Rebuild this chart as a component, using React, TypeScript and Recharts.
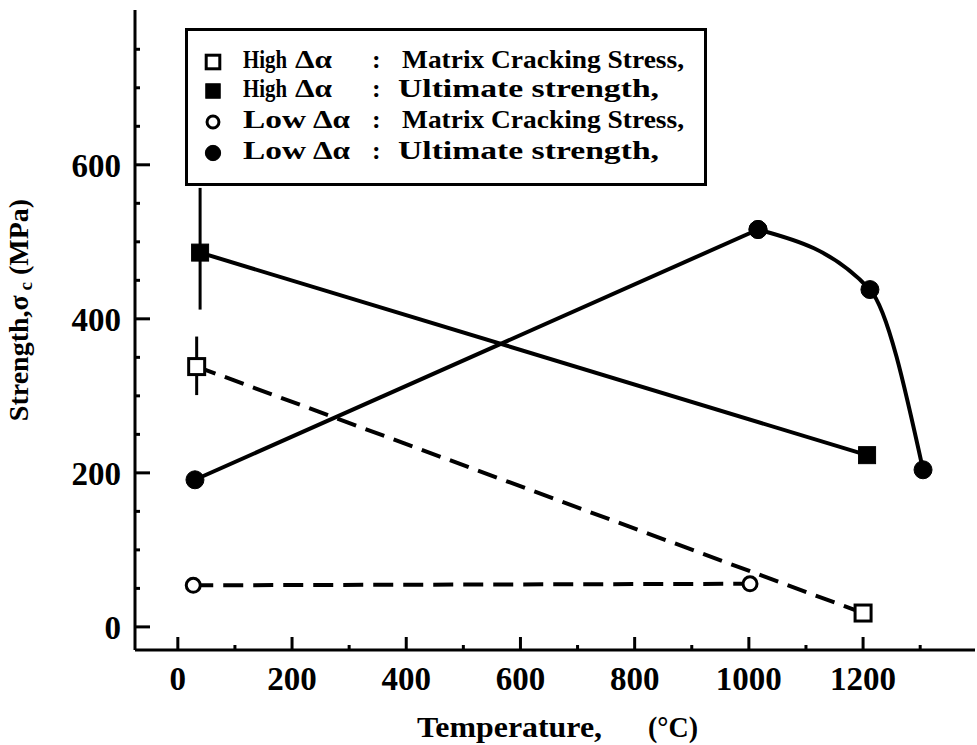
import React from 'react';
import { LineChart, Line, XAxis, YAxis, ErrorBar, Legend } from 'recharts';

// ---- data (temperature °C, strength MPa) ----
const highMatrix = [
  { t: 33, v: 338, e: [37, 39] },
  { t: 1200, v: 18, e: [0, 0] },
];
const highUltimate = [
  { t: 39, v: 486, e: [74, 84] },
  { t: 1207, v: 223, e: [0, 0] },
];
const lowMatrix = [
  { t: 27, v: 54 },
  { t: 1002, v: 56 },
];
const lowUltimateRise = [
  { t: 30, v: 191 },
  { t: 1016, v: 516 },
];
const lowUltimateFall = [
  { t: 1016, v: 516 },
  { t: 1212, v: 438 },
  { t: 1305, v: 204 },
];

const xTicks = [0, 100, 200, 300, 400, 500, 600, 700, 800, 900, 1000, 1100, 1200, 1300];
const yTicks = [0, 50, 100, 150, 200, 250, 300, 350, 400, 450, 500, 550, 600, 650, 700, 750];
const rightTicks = [4, 5, 6, 7, 8, 9, 10, 11, 12, 13, 14, 15, 16, 17, 18, 19, 20, 21, 22, 23];

const legendGroups = ['High', 'High', 'Low', 'Low'];
const legendDescs = ['Matrix Cracking Stress,', 'Ultimate strength,', 'Matrix Cracking Stress,', 'Ultimate strength,'];
const legendMarkers = ['openSquare', 'square', 'openCircle', 'circle'];

const xTitle = 'Temperature,';
const xUnit = '(°C)';

const FONT = '"Liberation Serif", "Times New Roman", serif';

const BottomTick = (props: any) => {
  const { x, y, payload } = props;
  const v = payload.value;
  const major = v % 200 === 0;
  return (
    <g>
      <line x1={x} x2={x} y1={y} y2={y - (major ? 13 : 5)} stroke="#000" strokeWidth={3} />
      {major && (
        <text x={x} y={y + 40} textAnchor="middle" fontFamily={FONT} fontWeight="bold" fontSize={33} fill="#000">
          {v}
        </text>
      )}
    </g>
  );
};

const TopTick = (props: any) => {
  const { x, y, payload } = props;
  const major = payload.value % 200 === 0;
  return <line x1={x} x2={x} y1={y} y2={y + (major ? 15 : 5)} stroke="#000" strokeWidth={3} />;
};

const LeftTick = (props: any) => {
  const { x, y, payload } = props;
  const v = payload.value;
  const major = v % 200 === 0;
  return (
    <g>
      <line x1={x} x2={x + (major ? 15 : 5)} y1={y} y2={y} stroke="#000" strokeWidth={3} />
      {major && (
        <text x={x - 14} y={y + 12} textAnchor="end" fontFamily={FONT} fontWeight="bold" fontSize={33} fill="#000">
          {v}
        </text>
      )}
    </g>
  );
};

const RightTick = (props: any) => {
  const { x, y, payload } = props;
  const major = payload.value % 4 === 0;
  return <line x1={x} x2={x - (major ? 11 : 5)} y1={y} y2={y} stroke="#000" strokeWidth={3} />;
};

const Marker = ({ kind, cx, cy, s = 1 }: any) => {
  if (kind === 'openSquare')
    return <rect x={cx - 8 * s} y={cy - 8 * s} width={16 * s} height={16 * s} fill="#fff" stroke="#000" strokeWidth={3} />;
  if (kind === 'square')
    return <rect x={cx - 8.5 * s} y={cy - 8.5 * s} width={17 * s} height={17 * s} fill="#000" stroke="#000" strokeWidth={1} />;
  if (kind === 'openCircle')
    return <circle cx={cx} cy={cy} r={7 * s} fill="#fff" stroke="#000" strokeWidth={3} />;
  return <circle cx={cx} cy={cy} r={9 * s} fill="#000" stroke="#000" strokeWidth={1} />;
};

const dotOf = (kind: string) => (p: any) => <Marker key={`${kind}-${p.index}`} kind={kind} cx={p.cx} cy={p.cy} />;

const LegendBox = () => {
  const baselines = [40, 69, 100, 131];
  const centers = [34, 63, 94, 125];
  return (
    <svg width={522} height={158} style={{ display: 'block' }}>
      <rect x={1.5} y={1.5} width={519} height={155} fill="#fff" stroke="#000" strokeWidth={3} />
      {legendGroups.map((g, i) => {
        const high = g === 'High';
        const matrix = legendDescs[i].startsWith('Matrix');
        return (
          <g key={i} fontFamily={FONT} fontWeight="bold" fontSize={26} fill="#000">
            <Marker kind={legendMarkers[i]} cx={28} cy={centers[i]} s={0.85} />
            <text x={58} y={baselines[i]} textLength={high ? 44 : 63} lengthAdjust="spacingAndGlyphs">{g}</text>
            <text x={high ? 110 : 128} y={baselines[i]} textLength={37} lengthAdjust="spacingAndGlyphs">Δα</text>
            <text x={187} y={baselines[i]}>:</text>
            <text x={matrix ? 217 : 213} y={baselines[i]} textLength={matrix ? 282 : 261} lengthAdjust="spacingAndGlyphs">
              {legendDescs[i]}
            </text>
          </g>
        );
      })}
    </svg>
  );
};

const YTitle = () => (
  <text
    transform="translate(28,310) rotate(-90)"
    textAnchor="middle"
    fontFamily={FONT}
    fontWeight="bold"
    fontSize={28}
    fill="#000"
  >
    Strength,σ
    <tspan fontSize={19} dy={4}> c</tspan>
    <tspan dy={-4}> (MPa)</tspan>
  </text>
);

const XTitle = () => (
  <g fontFamily={FONT} fontWeight="bold" fontSize={30} fill="#000">
    <text x={417} y={737} textLength={185} lengthAdjust="spacingAndGlyphs">{xTitle}</text>
    <text x={648} y={737} textLength={50} lengthAdjust="spacingAndGlyphs">{xUnit}</text>
  </g>
);

export default function App() {
  return (
    <div style={{ position: 'absolute', left: 0, top: 0, width: 977, height: 745, background: '#fff' }}>
      <LineChart width={977} height={745} margin={{ top: 10, right: 2, bottom: 0, left: 0 }}>
        <XAxis
          xAxisId="b"
          type="number"
          dataKey="t"
          domain={[-75, 1396]}
          ticks={xTicks}
          interval={0}
          height={95}
          tickSize={0}
          tickMargin={0}
          tickLine={false}
          axisLine={{ stroke: '#000', strokeWidth: 3 }}
          tick={<BottomTick />}
          allowDataOverflow
          label={{ content: () => <XTitle /> }}
        />
        <XAxis
          xAxisId="t"
          orientation="top"
          type="number"
          dataKey="t"
          domain={[-101, 1370]}
          ticks={xTicks}
          interval={0}
          height={0}
          tickSize={0}
          tickMargin={0}
          tickLine={false}
          axisLine={{ stroke: '#000', strokeWidth: 3 }}
          tick={<TopTick />}
          allowDataOverflow
        />
        <YAxis
          yAxisId="l"
          type="number"
          domain={[-30, 801]}
          ticks={yTicks}
          interval={0}
          width={135}
          tickSize={0}
          tickMargin={0}
          tickLine={false}
          axisLine={{ stroke: '#000', strokeWidth: 3 }}
          tick={<LeftTick />}
          allowDataOverflow
          label={{ content: () => <YTitle /> }}
        />
        <YAxis
          yAxisId="r"
          orientation="right"
          type="number"
          domain={[2.893, 24.47]}
          ticks={rightTicks}
          interval={0}
          width={0}
          tickSize={0}
          tickMargin={0}
          tickLine={false}
          axisLine={{ stroke: '#000', strokeWidth: 3 }}
          tick={<RightTick />}
          allowDataOverflow
        />
        <Legend
          layout="horizontal"
          verticalAlign="middle"
          align="center"
          wrapperStyle={{ position: 'absolute', left: 185, top: 28, width: 522, height: 158 }}
          content={() => <LegendBox />}
        />
        <Line
          xAxisId="b"
          yAxisId="l"
          data={highUltimate}
          dataKey="v"
          type="linear"
          stroke="#000"
          strokeWidth={4}
          dot={dotOf('square')}
          isAnimationActive={false}
        >
          <ErrorBar dataKey="e" direction="y" width={0} stroke="#000" strokeWidth={3} />
        </Line>
        <Line
          xAxisId="b"
          yAxisId="l"
          data={highMatrix}
          dataKey="v"
          type="linear"
          stroke="#000"
          strokeWidth={4}
          strokeDasharray="20 10"
          dot={dotOf('openSquare')}
          isAnimationActive={false}
        >
          <ErrorBar dataKey="e" direction="y" width={0} stroke="#000" strokeWidth={3} />
        </Line>
        <Line
          xAxisId="b"
          yAxisId="l"
          data={lowMatrix}
          dataKey="v"
          type="linear"
          stroke="#000"
          strokeWidth={4}
          strokeDasharray="20 10"
          dot={dotOf('openCircle')}
          isAnimationActive={false}
        />
        <Line
          xAxisId="b"
          yAxisId="l"
          data={lowUltimateRise}
          dataKey="v"
          type="linear"
          stroke="#000"
          strokeWidth={4}
          dot={dotOf('circle')}
          isAnimationActive={false}
        />
        <Line
          xAxisId="b"
          yAxisId="l"
          data={lowUltimateFall}
          dataKey="v"
          type="monotone"
          stroke="#000"
          strokeWidth={4}
          dot={dotOf('circle')}
          isAnimationActive={false}
        />
      </LineChart>
    </div>
  );
}
